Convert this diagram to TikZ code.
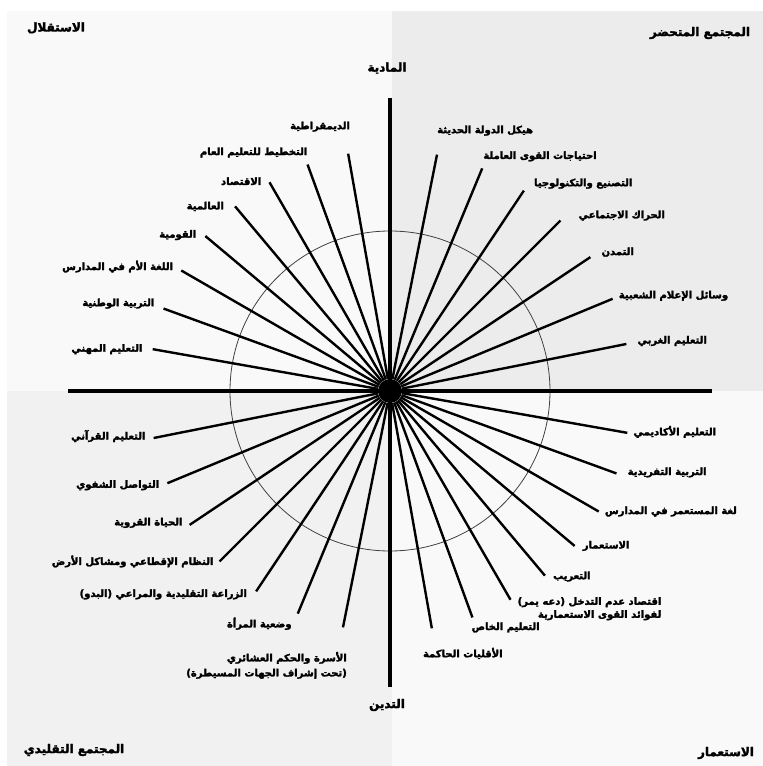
\documentclass[tikz,border=0pt]{standalone}
\usepackage{fontspec}
\newfontfamily\arabicfont[Script=Arabic, BoldFeatures={FakeBold=2.5}]{DejaVu Sans}
\TeXXeTstate=1
\newcommand{\ar}[1]{\beginR #1\endR}
\definecolor{quadTL}{gray}{0.975}
\definecolor{quadTR}{gray}{0.925}
\definecolor{quadBL}{gray}{0.945}
\definecolor{quadBR}{gray}{0.978}
\tikzset{
    ray/.style={line width=2.4pt},
    axis/.style={line width=4.5pt},
    lbl/.style={font=\arabicfont\bfseries\fontsize{10}{13}\selectfont, inner sep=1pt},
    corner/.style={font=\arabicfont\bfseries\fontsize{12}{14}\selectfont, inner sep=1pt}
}
\begin{document}
\begin{tikzpicture}[x=1pt,y=1pt]
        \useasboundingbox (-390,-375) rectangle (373,391);
        % quadrants
        \fill [white] (-390,-375) rectangle (373,391);
        \fill [quadTL] (-383,0) rectangle (2,380);
        \fill [quadTR] (2,0) rectangle (373,380);
        \fill [quadBL] (-383,-375) rectangle (2,0);
        \fill [quadBR] (2,-375) rectangle (373,0);
        \draw [line width=0.8pt, black!75] (0,0) circle (160);
        % axes
        \coordinate (axL) at (-322,0);
        \coordinate (axR) at (322,0);
        \coordinate (axT) at (0,293);
        \coordinate (axB) at (0,-296);
        \draw [axis] (axL) -- (axR);
        \draw [axis] (axT) -- (axB);
        \node [circle, fill, inner sep=0pt, minimum size=24pt] (c) at (0,0) {};
        \foreach \a [count=\i] in {100,110,120,130,140,150,160,170,
                78.75,67.5,56.25,45,33.75,22.5,11.25,
                -10,-20,-30,-40,-50,-60,-70,-80,
                191.25,202.5,213.75,225,236.25,247.5,258.75}
        {
            \coordinate (e\i) at (\a:241);
            \draw [ray] (c) -- (e\i);
        }
        % top left
        \node [lbl, anchor=east] (l1) at ([shift={(3,27)}]e1) {\ar{الديمقراطية}};
        \node [lbl, anchor=east] (l2) at ([shift={(1,12)}]e2) {\ar{التخطيط للتعليم العام}};
        \node [lbl, anchor=east] (l3) at ([shift={(-7,1)}]e3) {\ar{الاقتصاد}};
        \node [lbl, anchor=east] (l4) at ([shift={(-10,0)}]e4) {\ar{العالمية}};
        \node [lbl, anchor=east] (l5) at ([shift={(-8,1)}]e5) {\ar{القومية}};
        \node [lbl, anchor=east] (l6) at ([shift={(-7,4)}]e6) {\ar{اللغة الأم في المدارس}};
        \node [lbl, anchor=east] (l7) at ([shift={(-8,5)}]e7) {\ar{التربية الوطنية}};
        \node [lbl, anchor=east] (l8) at ([shift={(-9,0)}]e8) {\ar{التعليم المهني}};
        % top right
        \node [lbl, anchor=west] (l9) at ([shift={(-1,24)}]e9) {\ar{هيكل الدولة الحديثة}};
        \node [lbl, anchor=west] (l10) at ([shift={(0,12)}]e10) {\ar{احتياجات القوى العاملة}};
        \node [lbl, anchor=west] (l11) at ([shift={(9,7)}]e11) {\ar{التصنيع والتكنولوجيا}};
        \node [lbl, anchor=west] (l12) at ([shift={(17,5)}]e12) {\ar{الحراك الاجتماعي}};
        \node [lbl, anchor=west] (l13) at ([shift={(10,5)}]e13) {\ar{التمدن}};
        \node [lbl, anchor=west] (l14) at ([shift={(5,3)}]e14) {\ar{وسائل الإعلام الشعبية}};
        \node [lbl, anchor=west] (l15) at ([shift={(10,3)}]e15) {\ar{التعليم الغربي}};
        % bottom right
        \node [lbl, anchor=west] (l16) at ([shift={(5,1)}]e16) {\ar{التعليم الأكاديمي}};
        \node [lbl, anchor=west] (l17) at ([shift={(10,1)}]e17) {\ar{التربية التفريدية}};
        \node [lbl, anchor=west] (l18) at ([shift={(5,0)}]e18) {\ar{لغة المستعمر في المدارس}};
        \node [lbl, anchor=west] (l19) at ([shift={(7,0)}]e19) {\ar{الاستعمار}};
        \node [lbl, anchor=west] (l20) at ([shift={(7,-1)}]e20) {\ar{التعريب}};
        \node [lbl, anchor=west, align=right] (l21) at ([shift={(6,-9)}]e21)
            {\ar{اقتصاد عدم التدخل (دعه يمر)}\\\ar{لفوائد القوى الاستعمارية}};
        \node [lbl, anchor=west] (l22) at ([shift={(-2,-10)}]e22) {\ar{التعليم الخاص}};
        \node [lbl, anchor=west] (l23) at ([shift={(-10,-25)}]e23) {\ar{الأقليات الحاكمة}};
        % bottom left
        \node [lbl, anchor=east] (l24) at ([shift={(-7,2)}]e24) {\ar{التعليم القرآني}};
        \node [lbl, anchor=east] (l25) at ([shift={(-7,-2)}]e25) {\ar{التواصل الشفوي}};
        \node [lbl, anchor=east] (l26) at ([shift={(-6,2)}]e26) {\ar{الحياة القروية}};
        \node [lbl, anchor=east] (l27) at ([shift={(-5,0)}]e27) {\ar{النظام الإقطاعي ومشاكل الأرض}};
        \node [lbl, anchor=east] (l28) at ([shift={(-8,-3)}]e28) {\ar{الزراعة التقليدية والمراعي (البدو)}};
        \node [lbl, anchor=east] (l29) at ([shift={(-5,-10)}]e29) {\ar{وضعية المرأة}};
        \node [lbl, anchor=east, align=right] (l30) at ([shift={(5,-38)}]e30)
            {\ar{الأسرة والحكم العشائري}\\[2pt]\ar{(تحت إشراف الجهات المسيطرة)}};
        % axis ends and corners
        \node [corner] (mat) at (-3,323) {\ar{المادية}};
        \node [corner] (rel) at (-3,-314) {\ar{التدين}};
        \node [corner] (indep) at (-334,363) {\ar{الاستقلال}};
        \node [corner] (civil) at (310,358) {\ar{المجتمع المتحضر}};
        \node [corner] (trad) at (-316,-359) {\ar{المجتمع التقليدي}};
        \node [corner] (colon) at (336,-362) {\ar{الاستعمار}};
    \end{tikzpicture}
\end{document}
